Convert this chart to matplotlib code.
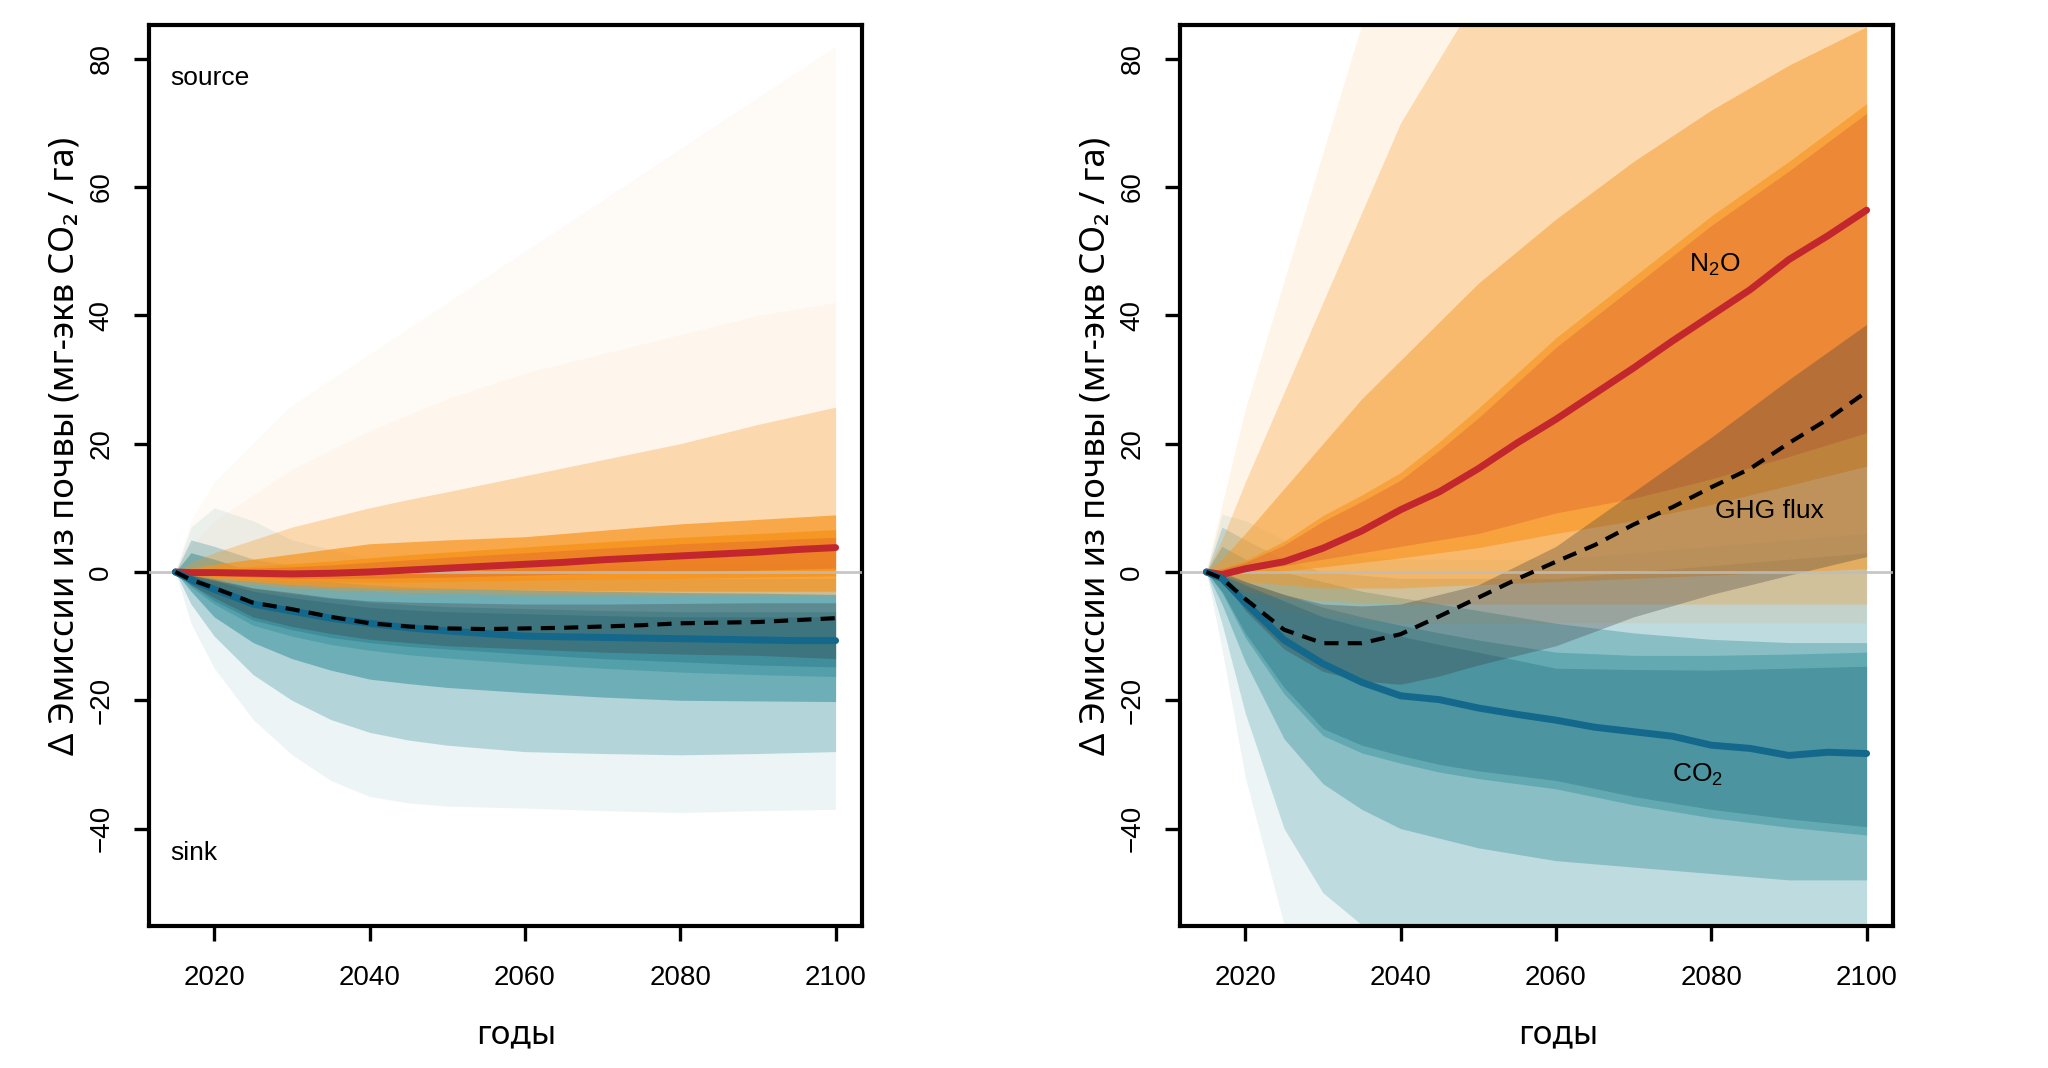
import matplotlib
matplotlib.use('Agg')
import matplotlib.pyplot as plt

plt.rcParams['font.family'] = ['Liberation Sans', 'DejaVu Sans']
plt.rcParams['mathtext.fontset'] = 'custom'
plt.rcParams['mathtext.rm'] = 'Liberation Sans'

# years for the ensemble envelopes and for the median lines
yrs = [2015, 2017, 2020, 2025, 2030, 2035, 2040, 2045, 2050, 2060, 2070, 2080, 2090, 2100]
yrs_fine = [2015, 2017, 2020, 2025, 2030, 2035, 2040, 2045, 2050, 2055,
            2060, 2065, 2070, 2075, 2080, 2085, 2090, 2095, 2100]

# ---- left panel ----
l_n2o_med = [0, -0.1, -0.1, -0.2, -0.3, -0.2, 0.0, 0.3, 0.6, 0.9, 1.2, 1.5, 1.9, 2.2, 2.5, 2.8, 3.1, 3.5, 3.8]
l_co2_med = [0, -1.2, -2.7, -5.0, -6.1, -7.2, -8.0, -8.7, -9.2, -9.6, -10.0, -10.1, -10.2, -10.3, -10.4, -10.5, -10.6, -10.7, -10.7]
l_ghg_med = [0, -1.2, -2.5, -4.8, -5.8, -7.0, -8.0, -8.5, -8.8, -8.9, -8.8, -8.7, -8.5, -8.3, -8.0, -7.9, -7.8, -7.5, -7.2]

l_n2o_q25 = [0, -0.3, -0.5, -0.8, -1.0, -1.0, -1.0, -0.9, -0.8, -0.5, -0.2, 0.0, 0.3, 0.6]
l_n2o_q75 = [0, 0.2, 0.4, 0.6, 0.8, 1.1, 1.5, 1.9, 2.3, 3.0, 3.7, 4.4, 4.9, 5.4]
l_n2o_q20 = [0, -0.4, -0.7, -1.1, -1.4, -1.5, -1.6, -1.6, -1.5, -1.3, -1.1, -1.0, -0.8, -0.6]
l_n2o_q80 = [0, 0.3, 0.6, 0.9, 1.3, 1.7, 2.2, 2.7, 3.1, 3.9, 4.7, 5.4, 6.0, 6.6]
l_n2o_q10 = [0, -0.5, -1.0, -1.5, -2.0, -2.3, -2.5, -2.6, -2.7, -2.8, -2.9, -3.0, -3.0, -3.0]
l_n2o_q90 = [0, 0.6, 1.2, 2.0, 2.8, 3.6, 4.4, 4.7, 5.0, 5.5, 6.5, 7.5, 8.2, 8.9]
l_n2o_q02 = [0, -0.8, -1.5, -2.0, -2.5, -2.8, -3.0, -3.2, -3.3, -3.5, -3.5, -3.5, -3.5, -3.5]
l_n2o_q98 = [0, 1.5, 3.0, 5.0, 7.0, 8.5, 10.0, 11.3, 12.5, 15.0, 17.5, 20.0, 23.0, 25.7]
l_n2o_min = [0, -1.5, -2.5, -3.0, -3.5, -3.8, -4.0, -4.0, -4.0, -4.0, -4.0, -4.0, -4.0, -4.0]
l_n2o_max = [0, 4, 8, 12, 16, 19, 22, 24.5, 27, 31, 34, 37, 40, 42]
l_n2o_out = [0, 8, 14, 20, 26, 30, 34, 38, 42, 50, 58, 66, 74, 82]

l_co2_q75 = [0, -0.5, -1.3, -3.0, -4.0, -4.8, -5.5, -5.9, -6.2, -6.5, -6.8, -7.0, -7.0, -7.0]
l_co2_q25 = [0, -2.0, -4.5, -7.5, -9.0, -10.2, -11.0, -11.6, -12.0, -12.8, -13.5, -14.0, -14.5, -14.8]
l_co2_q80 = [0, -0.3, -1.0, -2.5, -3.4, -4.1, -4.7, -5.1, -5.4, -5.7, -6.0, -6.2, -6.2, -6.2]
l_co2_q20 = [0, -2.3, -5.0, -8.3, -10.0, -11.3, -12.2, -12.9, -13.4, -14.3, -15.0, -15.6, -16.0, -16.3]
l_co2_q90 = [0, 3.0, 2.0, 0.0, -1.0, -1.5, -2.0, -2.3, -2.5, -2.8, -3.0, -3.2, -3.3, -3.5]
l_co2_q10 = [0, -3.0, -7.0, -11.0, -13.5, -15.3, -16.7, -17.4, -18.0, -18.8, -19.5, -20.0, -20.1, -20.2]
l_co2_q98 = [0, 5.0, 4.0, 2.0, 1.0, 0.5, 0.0, -0.3, -0.5, -0.8, -1.0, -1.0, -1.0, -1.0]
l_co2_q02 = [0, -5.0, -10.0, -16.0, -20.0, -23.0, -25.0, -26.2, -27.0, -28.0, -28.3, -28.5, -28.3, -28.0]
l_co2_max = [0, 7.0, 10.0, 8.0, 5.0, 3.5, 2.0, 1.7, 1.5, 1.0, 1.0, 1.0, 1.0, 1.0]
l_co2_min = [0, -8.0, -15.0, -23.0, -28.5, -32.5, -35.0, -36.0, -36.5, -36.8, -37.2, -37.5, -37.2, -37.0]

l_ghg_hi = [0, -0.5, -1.2, -2.5, -3.2, -4.0, -4.5, -4.7, -4.8, -5.0, -5.0, -4.9, -4.8, -4.8]
l_ghg_lo = [0, -2.0, -4.0, -7.0, -8.5, -9.6, -10.5, -11.0, -11.5, -12.0, -12.5, -12.8, -13.0, -13.5]

# ---- right panel ----
r_n2o_med = [0, -0.4, 0.5, 1.6, 3.7, 6.4, 9.7, 12.5, 16.1, 20.1, 23.8, 27.8, 31.8, 36.0, 40.0, 44.0, 48.7, 52.4, 56.4]
r_co2_med = [0, -1.0, -4.8, -10.6, -14.3, -17.2, -19.3, -19.9, -21.2, -22.2, -23.1, -24.2, -24.9, -25.6, -27.0, -27.5, -28.6, -28.1, -28.3]
r_ghg_med = [0, -1.0, -4.2, -9.0, -11.1, -11.1, -9.7, -6.9, -4.0, -1.1, 1.6, 4.2, 7.4, 10.1, 13.2, 16.1, 20.1, 23.8, 28.1]

r_n2o_q25 = [0, -0.2, 0.2, 1.0, 2.0, 3.0, 4.0, 5.0, 6.0, 9.2, 11.5, 14.5, 18.0, 21.7]
r_n2o_q75 = [0, 0.5, 1.5, 4.2, 7.9, 11.0, 14.3, 19.0, 24.0, 35.0, 44.5, 54.0, 62.5, 71.5]
r_n2o_q20 = [0, -0.3, -0.2, 0.2, 0.8, 1.5, 2.2, 3.0, 3.8, 6.0, 8.0, 10.5, 13.5, 16.5]
r_n2o_q80 = [0, 0.6, 1.8, 4.8, 8.8, 12.0, 15.5, 20.3, 25.5, 36.5, 46.0, 55.5, 64.0, 73.0]
r_n2o_q10 = [0, -0.5, -1.5, -2.0, -2.5, -2.5, -2.5, -2.2, -2.0, -1.5, -1.0, -0.5, 0.0, 0.5]
r_n2o_q90 = [0, 2.0, 6.0, 13.0, 20.0, 27.0, 33.0, 39.0, 45.0, 55.0, 64.0, 72.0, 79.0, 85.0]
r_n2o_q02 = [0, -1.0, -3.0, -4.0, -4.5, -4.8, -5.0, -5.0, -5.0, -5.0, -5.0, -5.0, -5.0, -5.0]
r_n2o_q98 = [0, 5.0, 14.0, 28.0, 42.0, 56.0, 70.0, 80.0, 90.0, 106.0, 120.0, 132.0, 142.0, 150.0]
r_n2o_min = [0, -2.0, -4.0, -6.0, -7.0, -7.5, -8.0, -8.0, -8.0, -8.0, -8.0, -8.0, -8.0, -8.0]
r_n2o_max = [0, 10, 25, 45, 65, 85, 100, 115, 130, 160, 180, 200, 215, 230]

r_co2_q75 = [0, -0.5, -2.0, -4.5, -7.0, -8.6, -10.0, -11.3, -12.5, -15.0, -15.2, -15.3, -15.0, -14.7]
r_co2_q25 = [0, -3.0, -9.5, -18.0, -24.4, -27.0, -28.6, -30.0, -31.0, -32.5, -35.0, -37.0, -38.5, -39.7]
r_co2_q80 = [0, -0.3, -1.5, -3.5, -5.5, -7.0, -8.3, -9.5, -10.6, -12.5, -13.0, -13.0, -12.8, -12.5]
r_co2_q20 = [0, -3.2, -10.2, -19.0, -25.5, -28.2, -29.8, -31.2, -32.2, -33.8, -36.3, -38.3, -39.8, -41.0]
r_co2_q90 = [0, 4.0, 2.0, 0.0, -1.5, -3.0, -4.0, -5.0, -6.0, -8.0, -9.5, -10.5, -11.0, -11.0]
r_co2_q10 = [0, -5.0, -14.0, -26.0, -33.0, -37.0, -40.0, -41.5, -43.0, -45.0, -46.0, -47.0, -48.0, -48.0]
r_co2_q98 = [0, 7.0, 5.0, 2.0, 0.0, -0.5, -1.0, -1.0, -1.0, -1.0, 0.0, 1.0, 2.0, 3.0]
r_co2_q02 = [0, -8.0, -22.0, -40.0, -50.0, -55.0, -58.0, -60.0, -62.0, -64.0, -66.0, -68.0, -69.0, -70.0]
r_co2_max = [0, 9.0, 8.0, 5.0, 3.0, 2.5, 2.0, 2.0, 2.0, 2.0, 3.0, 4.0, 5.0, 6.0]
r_co2_min = [0, -12.0, -32.0, -55.0, -70.0, -78.0, -85.0, -88.0, -90.0, -95.0, -98.0, -100.0, -100.0, -100.0]

r_ghg_hi = [0, 0.0, -1.5, -3.5, -5.0, -5.3, -5.0, -3.5, -2.0, 4.0, 12.5, 21.0, 30.0, 38.6]
r_ghg_lo = [0, -1.0, -6.0, -12.0, -15.5, -17.0, -17.5, -16.2, -14.5, -11.5, -7.0, -3.5, -0.5, 2.4]

x_ticks = [2020, 2040, 2060, 2080, 2100]
y_ticks = [-40, -20, 0, 20, 40, 60, 80]
ylab = 'Δ Эмиссии из почвы (мг-экв CO₂ / га)'
xlab = 'годы'

orange = '#f7941d'
teal = '#4a9ba6'
red = '#c1272d'
blue = '#13688c'
label_font = ['Noto Sans', 'DejaVu Sans']


def band(ax, lo, hi, color, alpha, z):
    ax.fill_between(yrs, lo, hi, color=color, alpha=alpha, lw=0, zorder=z)


def draw_panel(ax, co2, n2o, ghg_lo, ghg_hi, meds, xlab_x, a_co2, a_n2o):
    # co2 / n2o : (min, q02, q10, q20, q25, q75, q80, q90, q98, max)
    for i, a in enumerate(a_co2):
        band(ax, co2[i], co2[9 - i], teal, a, 1)
    for i, a in enumerate(a_n2o):
        band(ax, n2o[i], n2o[9 - i], orange, a, 2)
    band(ax, co2[4], co2[5], '#1f6f80', 0.35, 3)
    band(ax, n2o[4], n2o[5], '#d95a2b', 0.35, 3)
    band(ax, ghg_lo, ghg_hi, '#3a3a3a', 0.30, 4)
    ax.axhline(0, color='#bdbdbd', lw=2, alpha=0.85, zorder=5)
    ax.plot(yrs_fine, meds[0], color=red, lw=5, zorder=6, solid_capstyle='round')
    ax.plot(yrs_fine, meds[1], color=blue, lw=5, zorder=6, solid_capstyle='round')
    ax.plot(yrs_fine, meds[2], color='black', lw=3, dashes=(3.4, 2.2), zorder=7)

    ax.set_xlim(2011.6, 2103.4)
    ax.set_ylim(-55.2, 85.2)
    ax.set_xticks(x_ticks)
    ax.set_yticks(y_ticks)
    ax.tick_params(direction='out', length=11, width=2.4, labelsize=20)
    ax.tick_params(axis='x', pad=17)
    ax.tick_params(axis='y', pad=14)
    for lbl in ax.get_yticklabels():
        lbl.set_rotation(90)
        lbl.set_va('center')
    for s in ax.spines.values():
        s.set_linewidth(3)
    ax.set_ylabel(ylab, fontsize=25, family=label_font)
    ax.yaxis.set_label_coords(-0.118, 0.533)
    ax.yaxis.label.set_va('center')
    ax.set_xlabel(xlab, fontsize=24, family=label_font)
    ax.xaxis.set_label_coords(xlab_x, -0.121)
    ax.xaxis.label.set_va('center')


fig = plt.figure(figsize=(20.48, 10.68), dpi=100)
ax1 = fig.add_axes([149 / 2048, 0.13287, 713 / 2048, 0.84335])
ax2 = fig.add_axes([1180 / 2048, 0.13287, 713 / 2048, 0.84335])

draw_panel(ax1,
           (l_co2_min, l_co2_q02, l_co2_q10, l_co2_q20, l_co2_q25,
            l_co2_q75, l_co2_q80, l_co2_q90, l_co2_q98, l_co2_max),
           (l_n2o_min, l_n2o_q02, l_n2o_q10, l_n2o_q20, l_n2o_q25,
            l_n2o_q75, l_n2o_q80, l_n2o_q90, l_n2o_q98, l_n2o_max),
           l_ghg_lo, l_ghg_hi, (l_n2o_med, l_co2_med, l_ghg_med), 0.515,
           [0.10, 0.35, 0.65, 0.75], [0.08, 0.30, 0.70, 0.85])
# a few extreme runs in the left panel
band(ax1, l_n2o_max, l_n2o_out, orange, 0.04, 1)
ax1.text(2014.3, 77, 'source', fontsize=19, ha='left', va='center')
ax1.text(2014.3, -43.8, 'sink', fontsize=19, ha='left', va='center')

draw_panel(ax2,
           (r_co2_min, r_co2_q02, r_co2_q10, r_co2_q20, r_co2_q25,
            r_co2_q75, r_co2_q80, r_co2_q90, r_co2_q98, r_co2_max),
           (r_n2o_min, r_n2o_q02, r_n2o_q10, r_n2o_q20, r_n2o_q25,
            r_n2o_q75, r_n2o_q80, r_n2o_q90, r_n2o_q98, r_n2o_max),
           r_ghg_lo, r_ghg_hi, (r_n2o_med, r_co2_med, r_ghg_med), 0.531,
           [0.10, 0.28, 0.45, 0.60], [0.10, 0.28, 0.45, 0.60])
ax2.text(2080.4, 47.9, r'N$_\mathregular{2}$O', fontsize=19, ha='center', va='center', zorder=8)
ax2.text(2087.5, 9.5, 'GHG flux', fontsize=19, ha='center', va='center', zorder=8)
ax2.text(2078.2, -31.6, r'CO$_\mathregular{2}$', fontsize=19, ha='center', va='center', zorder=8)

fig.savefig('out.png', dpi=100)
